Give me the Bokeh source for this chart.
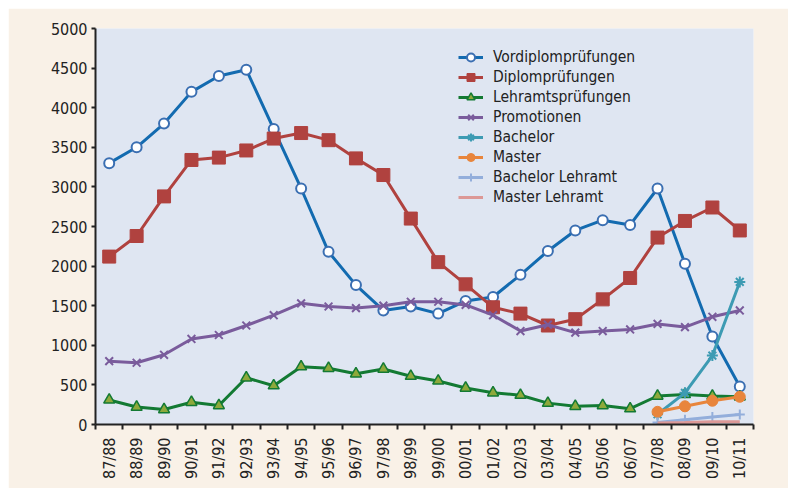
import numpy as np
from bokeh.plotting import figure
from bokeh.models import Range1d, FixedTicker, Legend
from bokeh.embed import file_html
from bokeh.resources import INLINE

years = ["87/88", "88/89", "89/90", "90/91", "91/92", "92/93", "93/94", "94/95",
         "95/96", "96/97", "97/98", "98/99", "99/00", "00/01", "01/02", "02/03",
         "03/04", "04/05", "05/06", "06/07", "07/08", "08/09", "09/10", "10/11"]

vordiplom = [3300, 3500, 3800, 4200, 4400, 4480, 3730, 2980, 2180, 1760, 1440, 1490,
             1400, 1560, 1610, 1890, 2190, 2450, 2580, 2520, 2980, 2030, 1110, 480]
diplom = [2120, 2380, 2880, 3340, 3370, 3460, 3610, 3680, 3590, 3360, 3150, 2600,
          2050, 1770, 1480, 1400, 1250, 1330, 1580, 1850, 2360, 2570, 2740, 2450]
lehramt = [310, 220, 190, 280, 240, 590, 490, 730, 710, 640, 700, 610,
           550, 460, 400, 370, 270, 230, 240, 200, 360, 380, 360, 350]
promotionen = [800, 780, 880, 1080, 1130, 1250, 1380, 1530, 1490, 1470, 1500, 1550,
               1550, 1510, 1380, 1180, 1260, 1160, 1180, 1200, 1270, 1230, 1360, 1440]
# new degree programmes start in 07/08
new_years = ["07/08", "08/09", "09/10", "10/11"]
bachelor = [130, 400, 870, 1800]
master = [160, 230, 300, 350]
bachelor_lehramt = [25, 60, 95, 125]
master_lehramt = [20, 25, 35, 35]

y_ticks = [0, 500, 1000, 1500, 2000, 2500, 3000, 3500, 4000, 4500, 5000]

FONT = "'Liberation Sans Narrow', 'DejaVu Sans Condensed', 'Open Sans', sans-serif"

pos = {y: i + 0.5 for i, y in enumerate(years)}
x_all = [pos[y] for y in years]
x_new = [pos[y] for y in new_years]

p = figure(width=780, height=480, output_backend="svg", toolbar_location=None,
           x_range=Range1d(0, len(years)), y_range=Range1d(0, 5000),
           min_border_left=87, min_border_right=35, min_border_top=20, min_border_bottom=64)
p.margin = (8, 0, 0, 8)
p.background_fill_color = "#dfe6f2"
p.border_fill_color = "#f9f1e7"
p.outline_line_color = None
p.xgrid.visible = False
p.ygrid.visible = False

# x axis: labels at category centers, ticks at category boundaries
p.xaxis.ticker = FixedTicker(ticks=x_all, minor_ticks=list(range(len(years) + 1)))
p.xaxis.major_label_overrides = {pos[y]: y for y in years}
p.xaxis.major_tick_out = 0
p.xaxis.major_tick_in = 0
p.xaxis.minor_tick_out = 5
p.xaxis.minor_tick_in = 0
p.xaxis.minor_tick_line_color = "#222222"
p.xaxis.minor_tick_line_width = 2
p.xaxis.major_label_orientation = np.pi / 2
p.xaxis.major_label_standoff = 8
p.xaxis.axis_line_color = "#222222"
p.xaxis.axis_line_width = 2
p.xaxis.major_label_text_font = FONT
p.xaxis.major_label_text_font_size = "16px"
p.xaxis.major_label_text_color = "#222222"

p.yaxis.ticker = FixedTicker(ticks=y_ticks)
p.yaxis.major_tick_out = 4
p.yaxis.major_tick_in = 0
p.yaxis.minor_tick_out = 0
p.yaxis.minor_tick_in = 0
p.yaxis.major_tick_line_color = "#222222"
p.yaxis.major_tick_line_width = 2
p.yaxis.axis_line_color = "#222222"
p.yaxis.axis_line_width = 2
p.yaxis.major_label_standoff = 4
p.yaxis.major_label_text_font = FONT
p.yaxis.major_label_text_font_size = "16px"
p.yaxis.major_label_text_color = "#222222"

LW = 3

items = []

def series(label, xs, ys, color, marker=None, size=10, fill=None, mline=None, mlw=1.5):
    rs = [p.line(xs, ys, line_color=color, line_width=LW)]
    if marker is not None:
        rs.append(p.scatter(xs, ys, marker=marker, size=size,
                            fill_color=fill if fill else color,
                            line_color=mline if mline else color, line_width=mlw))
    items.append((label, rs))

series("Vordiplomprüfungen", x_all, vordiplom, "#136bb0", "circle", 10, "white", "#3b6fb2", 2)
series("Diplomprüfungen", x_all, diplom, "#b0423f", "square", 13, "#b0423f", "#b0423f", 1)
series("Lehramtsprüfungen", x_all, lehramt, "#137a33", "triangle", 11, "#8ea93b", "#137a33", 1.5)
series("Promotionen", x_all, promotionen, "#7a5c9c", "x", 11, None, "#7a5c9c", 2)
series("Bachelor", x_new, bachelor, "#3d9bb3", "asterisk", 11, None, "#3d9bb3", 2)
series("Master", x_new, master, "#e8853c", "circle", 11, "#e8853c", "#e8853c", 1)
series("Bachelor Lehramt", x_new, bachelor_lehramt, "#93aedb", "cross", 10, None, "#93aedb", 2)
series("Master Lehramt", x_new, master_lehramt, "#dc9896")

legend = Legend(items=items, location=(363, 217))
legend.background_fill_alpha = 0
legend.border_line_color = None
legend.padding = 0
legend.spacing = 0
legend.margin = 0
legend.glyph_width = 25
legend.glyph_height = 20
legend.label_height = 20
legend.label_standoff = 10
legend.label_text_font = FONT
legend.label_text_font_size = "15.5px"
legend.label_text_color = "#222222"
legend.label_text_baseline = "middle"
p.add_layout(legend)

open("out.html", "w").write(file_html(p, INLINE))
